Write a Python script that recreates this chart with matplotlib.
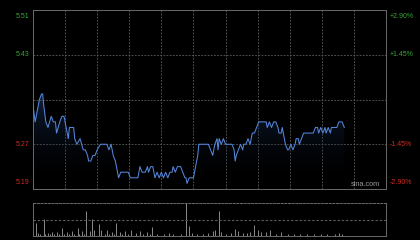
import numpy as np
import matplotlib
matplotlib.use("Agg")
import matplotlib.pyplot as plt
from matplotlib.patches import Polygon

# minutes since 9:30 (HK session, lunch removed) and last price
minutes = [0, 2, 4, 6, 8, 9, 10, 12, 14, 17, 19, 21, 22, 25, 27, 29, 31, 33, 34, 36,
           38, 39, 41, 44, 47, 49, 51, 52, 54, 56, 58, 60, 63, 65, 68, 69, 71, 73, 75, 77,
           79, 80, 82, 83, 86, 89, 91, 93, 95, 98, 99, 100, 102, 105, 107, 108, 110, 112, 113, 114,
           116, 118, 120, 122, 124, 126, 128, 130, 131, 133, 135, 138, 140, 142, 143, 144, 146, 148, 150, 152,
           154, 155, 157, 159, 162, 164, 166, 168, 170, 172, 173, 174, 176, 178, 180, 183, 186, 188, 189, 190,
           192, 194, 196, 197, 199, 201, 203, 204, 205, 207, 209, 211, 213, 216, 218, 219, 221, 223, 225, 227,
           229, 230, 232, 233, 235, 236, 238, 239, 241, 243, 245, 246, 248, 249, 251, 253, 255, 257, 259, 262,
           264, 266, 267, 269, 271, 273, 274, 276, 278, 279, 281, 284, 286, 289, 291]
prices = [5.34, 5.31, 5.33, 5.35, 5.36, 5.36, 5.34, 5.31, 5.30, 5.32, 5.31, 5.31, 5.29, 5.31, 5.32, 5.32, 5.30, 5.28, 5.30, 5.30,
          5.30, 5.28, 5.27, 5.28, 5.26, 5.26, 5.25, 5.24, 5.24, 5.25, 5.25, 5.26, 5.27, 5.27, 5.27, 5.27, 5.26, 5.27, 5.25, 5.24,
          5.22, 5.21, 5.22, 5.22, 5.22, 5.22, 5.21, 5.21, 5.21, 5.21, 5.22, 5.23, 5.22, 5.22, 5.23, 5.22, 5.23, 5.23, 5.22, 5.21,
          5.22, 5.21, 5.22, 5.21, 5.22, 5.21, 5.22, 5.22, 5.23, 5.22, 5.23, 5.23, 5.22, 5.21, 5.21, 5.20, 5.21, 5.21, 5.21, 5.23,
          5.25, 5.27, 5.27, 5.27, 5.27, 5.27, 5.26, 5.25, 5.27, 5.28, 5.26, 5.28, 5.27, 5.28, 5.27, 5.27, 5.27, 5.26, 5.24, 5.25,
          5.26, 5.27, 5.26, 5.27, 5.27, 5.28, 5.27, 5.28, 5.29, 5.29, 5.30, 5.31, 5.31, 5.31, 5.31, 5.30, 5.31, 5.30, 5.31, 5.31,
          5.30, 5.29, 5.29, 5.30, 5.28, 5.27, 5.26, 5.26, 5.27, 5.26, 5.27, 5.28, 5.28, 5.27, 5.28, 5.29, 5.29, 5.29, 5.29, 5.29,
          5.30, 5.30, 5.29, 5.30, 5.29, 5.30, 5.29, 5.30, 5.29, 5.30, 5.30, 5.30, 5.31, 5.31, 5.30]

vol_minutes = [0, 3, 5, 7, 10, 11, 14, 16, 18, 20, 22, 24, 27, 29, 32, 34, 36, 38, 42, 43,
               46, 48, 50, 53, 55, 57, 62, 64, 67, 69, 71, 74, 76, 78, 81, 83, 86, 89, 92, 96,
               100, 103, 107, 109, 111, 116, 122, 127, 131, 138, 143, 146, 149, 153, 159, 164, 168, 170, 174, 176,
               180, 185, 189, 192, 196, 200, 203, 207, 210, 213, 218, 222, 227, 232, 238, 244, 250, 256, 263, 269,
               275, 282, 286, 289]
volumes = [9, 13, 3, 2, 17, 2, 3, 2, 4, 2, 4, 2, 8, 2, 4, 2, 5, 2, 8, 2,
           5, 2, 25, 5, 17, 6, 12, 6, 2, 6, 2, 4, 2, 13, 4, 2, 5, 2, 6, 3,
           5, 2, 4, 2, 9, 2, 2, 3, 2, 2, 33, 10, 3, 2, 2, 3, 5, 6, 25, 4,
           2, 3, 7, 5, 3, 3, 4, 11, 6, 4, 4, 6, 2, 4, 2, 2, 2, 2, 2, 2,
           2, 2, 3, 2]

prev_close = 5.35
price_ticks = [5.51, 5.43, 5.35, 5.27, 5.19]
pct_labels = ["+2.90%", "+1.45%", "", "-1.45%", "-2.90%"]
session_len = 330

bg = "black"
grid_c = "#5a5a5a"
green = "#35a535"
red = "#d22a22"
dash = (0, (2.2, 1.6))

fig = plt.figure(figsize=(4.2, 2.4), dpi=100, facecolor=bg)
ax = fig.add_axes([33 / 420, 1 - 189 / 240, 353 / 420, 179 / 240], facecolor=bg)
axv = fig.add_axes([33 / 420, 1 - 236 / 240, 353 / 420, 33 / 240], facecolor=bg)

lo, hi = price_ticks[-1], price_ticks[0]
ax.set_xlim(0, session_len)
ax.set_ylim(lo, hi)

# gradient fill under the price line
grad = np.linspace(0, 1, 256).reshape(-1, 1)
cmap = matplotlib.colors.LinearSegmentedColormap.from_list(
    "f", [(0, 0, 0, 0), (0.16, 0.3, 0.55, 0.42)])
im = ax.imshow(grad, cmap=cmap, aspect="auto", origin="lower",
               extent=[0, session_len, lo, max(prices)], zorder=1)
verts = [(minutes[0], lo)] + list(zip(minutes, prices)) + [(minutes[-1], lo)]
clip = Polygon(verts, closed=True, facecolor="none", edgecolor="none")
ax.add_patch(clip)
im.set_clip_path(clip)

ax.plot(minutes, prices, color="#5586da", lw=0.75, zorder=3)

for m in range(30, session_len, 30):
    ax.axvline(m, color=grid_c, lw=0.6, ls=dash, zorder=0)
for p in price_ticks[1:-1]:
    ax.axhline(p, color=grid_c, lw=0.6, ls=dash, zorder=0)

ax.set_xticks([])
ax.set_yticks([])
for s in ax.spines.values():
    s.set_color("#6a6a6a")
    s.set_linewidth(0.7)

# axis labels drawn as text
for i, (p, pl) in enumerate(zip(price_ticks, pct_labels)):
    if p == prev_close:
        continue
    c = green if p > prev_close else red
    va = "top" if i == 0 else ("bottom" if i == len(price_ticks) - 1 else "center")
    off = -2 if i == 0 else (2 if i == len(price_ticks) - 1 else 0)
    ax.annotate(f"{p:.2f}", (0, p), xycoords=("axes fraction", "data"),
                xytext=(-2.5, off), textcoords="offset points",
                ha="right", va=va, color=c, fontsize=5, family="Liberation Sans")
    ax.annotate(pl, (1, p), xycoords=("axes fraction", "data"),
                xytext=(2.5, off), textcoords="offset points",
                ha="left", va=va, color=c, fontsize=5, family="Liberation Sans")

ax.text(0.983, 0.005, "sina.com", transform=ax.transAxes, ha="right", va="bottom",
        color="#9a9a9a", fontsize=5.3, family="Liberation Sans")

# volume panel
axv.set_xlim(0, session_len)
axv.set_ylim(0, max(volumes))
axv.vlines(vol_minutes, 0, volumes, color="#8a8a8a", lw=0.7)
axv.axhline(max(volumes) / 2, color=grid_c, lw=0.8, ls=dash)
axv.set_xticks([])
axv.set_yticks([])
for k, s in axv.spines.items():
    s.set_color("#6a6a6a")
    s.set_linewidth(0.7)
axv.spines["top"].set_linestyle(dash)

fig.savefig("out.png", dpi=100, facecolor=bg)
